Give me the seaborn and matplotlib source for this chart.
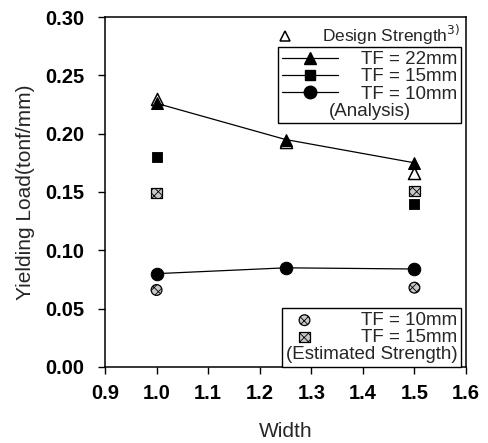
import matplotlib
matplotlib.use("Agg")
import matplotlib.pyplot as plt
from matplotlib.lines import Line2D
from matplotlib.offsetbox import TextArea
import seaborn as sns
import pandas as pd

# ---- data ----
width_22 = [1.0, 1.25, 1.5]
load_22 = [0.226, 0.195, 0.175]
width_15 = [1.0, 1.5]
load_15 = [0.180, 0.140]
width_10 = [1.0, 1.25, 1.5]
load_10 = [0.080, 0.085, 0.084]
width_design = [1.0, 1.25, 1.5]
load_design = [0.230, 0.193, 0.166]
width_est10 = [1.0, 1.5]
load_est10 = [0.066, 0.068]
width_est15 = [1.0, 1.5]
load_est15 = [0.149, 0.151]
xticks = [0.9, 1.0, 1.1, 1.2, 1.3, 1.4, 1.5, 1.6]
yticks = [0.00, 0.05, 0.10, 0.15, 0.20, 0.25, 0.30]

sns.set_style("ticks")
plt.rcParams['font.family'] = ['Liberation Sans', 'DejaVu Sans']
plt.rcParams['hatch.linewidth'] = 0.6

fig = plt.figure(figsize=(4.89, 4.43), dpi=100)
ax = fig.add_axes([0.2147, 0.1716, 0.7383, 0.79])

df22 = pd.DataFrame({"w": width_22, "y": load_22})
df15 = pd.DataFrame({"w": width_15, "y": load_15})
df10 = pd.DataFrame({"w": width_10, "y": load_10})
dfd = pd.DataFrame({"w": width_design, "y": load_design})
dfe10 = pd.DataFrame({"w": width_est10, "y": load_est10})
dfe15 = pd.DataFrame({"w": width_est15, "y": load_est15})

lw = 0.9
sns.lineplot(data=df22, x="w", y="y", ax=ax, color="black", lw=lw,
             marker="^", markersize=9, markeredgecolor="black", zorder=3)
sns.lineplot(data=df10, x="w", y="y", ax=ax, color="black", lw=lw,
             marker="o", markersize=9, markeredgecolor="black", zorder=3)
sns.scatterplot(data=df15, x="w", y="y", ax=ax, color="black", marker="s",
                s=60, edgecolor="black", zorder=3)
sns.scatterplot(data=dfd, x="w", y="y", ax=ax, facecolor="white", marker="^",
                s=75, edgecolor="black", linewidth=1.1, zorder=2)
sc_e10 = ax.scatter(dfe10["w"], dfe10["y"], marker="o", s=60, facecolor="#c8c8c8",
                    edgecolor="black", linewidth=0.9, hatch="xxxx", zorder=3)
sc_e15 = ax.scatter(dfe15["w"], dfe15["y"], marker="s", s=55, facecolor="#c8c8c8",
                    edgecolor="black", linewidth=0.9, hatch="xxxx", zorder=3)

ax.set_xlim(0.9, 1.6)
ax.set_ylim(0.0, 0.30)
ax.set_xticks(xticks)
ax.set_yticks(yticks)
ax.set_xticklabels([f"{v:.1f}" for v in xticks], fontsize=14.5, fontweight="bold")
ax.set_yticklabels([f"{v:.2f}" for v in yticks], fontsize=14.5, fontweight="bold")
ax.tick_params(direction="out", length=5, width=1, colors="black")
ax.tick_params(axis="x", pad=7)
ax.tick_params(axis="y", pad=10)
for s in ax.spines.values():
    s.set_visible(True)
    s.set_linewidth(1.1)
    s.set_color("black")
ax.set_xlabel("Width", fontsize=15, labelpad=14)
ax.set_ylabel("Yielding Load(tonf/mm)", fontsize=15, labelpad=7)


def add_footer(leg, text, size):
    ta = TextArea(text, textprops=dict(fontsize=size))
    ta.set_figure(fig)
    leg._legend_box._children.append(ta)
    leg._legend_box.align = "center"
    leg._legend_box.sep = 0


# ---- legends ----
h_design = Line2D([], [], marker="^", ls="none", markerfacecolor="white",
                  markeredgecolor="black", markersize=7, markeredgewidth=1.1)
leg0 = ax.legend([h_design], ["Design Strength$^{3)}$"], loc="upper right",
                 bbox_to_anchor=(1.0, 1.0), frameon=False, fontsize=12.5,
                 handlelength=1.2, handletextpad=1.5, borderpad=0.25,
                 borderaxespad=0.1)
ax.add_artist(leg0)

h22 = Line2D([], [], color="black", lw=lw, marker="^", markersize=9)
h15 = Line2D([], [], color="black", lw=lw, marker="s", markersize=7.5)
h10 = Line2D([], [], color="black", lw=lw, marker="o", markersize=9)
leg1 = ax.legend([h22, h15, h10], ["TF = 22mm", "TF = 15mm", "TF = 10mm"],
                 loc="upper right", bbox_to_anchor=(0.986, 0.913), fontsize=13.5,
                 frameon=True, fancybox=False, edgecolor="black", framealpha=1,
                 handlelength=3.0, handletextpad=1.2, labelspacing=0.0,
                 borderpad=0.2, borderaxespad=0.0)
leg1.get_frame().set_linewidth(1.0)
add_footer(leg1, "(Analysis)", 13.5)
ax.add_artist(leg1)

leg2 = ax.legend([sc_e10, sc_e15], ["TF = 10mm", "TF = 15mm"],
                 loc="lower right", bbox_to_anchor=(0.986, 0.0), fontsize=13.5,
                 frameon=True, fancybox=False, edgecolor="black", framealpha=1,
                 handlelength=2.0, handletextpad=2.0, labelspacing=0.0,
                 borderpad=0.2, borderaxespad=0.0, scatterpoints=1)
leg2.get_frame().set_linewidth(1.0)
add_footer(leg2, "(Estimated Strength)", 13.5)

fig.savefig("out.png", dpi=100)
